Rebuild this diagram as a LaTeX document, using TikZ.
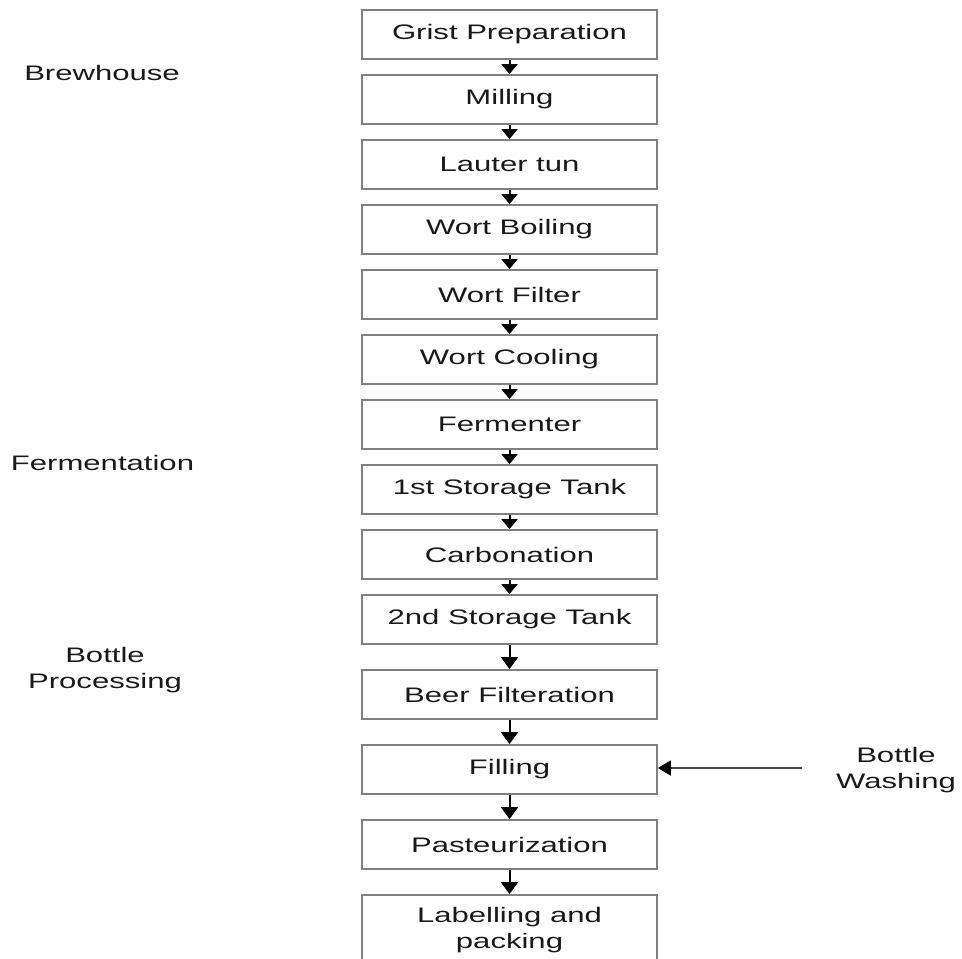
\documentclass[tikz,border=0pt]{standalone}
\usepackage{fontspec}
\setmainfont{Liberation Sans}[FakeStretch=1.48]
\usetikzlibrary{arrows.meta}
\begin{document}
\begin{tikzpicture}[x=1pt,y=-1pt,
  every node/.style={font=\fontsize{21}{25.5}\selectfont, text=black!90, align=center},
  box/.style={draw=black!50, line width=1.8pt, minimum width=295pt, minimum height=49pt, inner sep=0pt},
  flow/.style={draw=black, line width=2pt, -{Triangle[width=16pt,length=10pt]}},
  flowlong/.style={draw=black, line width=2pt, -{Triangle[width=17pt,length=12pt]}},
  lab/.style={inner sep=0pt}
]
\useasboundingbox (0,0) rectangle (962,959);
\node[box] (b1) at (509.5,34.5) {Grist Preparation};
\node[box] (b2) at (509.5,99.5) {Milling};
\node[box] (b3) at (509.5,164.5) {Lauter tun};
\node[box] (b4) at (509.5,229.5) {Wort Boiling};
\node[box] (b5) at (509.5,294.5) {Wort Filter};
\node[box] (b6) at (509.5,359.5) {Wort Cooling};
\node[box] (b7) at (509.5,424.5) {Fermenter};
\node[box] (b8) at (509.5,489.5) {1st Storage Tank};
\node[box] (b9) at (509.5,554.5) {Carbonation};
\node[box] (b10) at (509.5,619.5) {2nd Storage Tank};
\node[box] (b11) at (509.5,694.5) {Beer Filteration};
\node[box] (b12) at (509.5,769.5) {Filling};
\node[box] (b13) at (509.5,844.5) {Pasteurization};
\node[box, minimum height=70pt] (b14) at (509.5,930) {Labelling and\\packing};
\foreach \a/\b in {b1/b2,b2/b3,b3/b4,b4/b5,b5/b6,b6/b7,b7/b8,b8/b9,b9/b10}
  \draw[flow] (\a) -- (\b);
\foreach \a/\b in {b10/b11,b11/b12,b12/b13,b13/b14}
  \draw[flowlong] (\a) -- (\b);
\node[lab] (brew) at (102,73) {Brewhouse};
\node[lab] (ferm) at (102.5,463) {Fermentation};
\node[lab] (bproc) at (105,670) {Bottle\\Processing};
\node[lab] (bwash) at (896,770) {Bottle\\Washing};
\coordinate (wstart) at (802,768);
\draw[draw=black!70, line width=1.8pt, -{Triangle[width=15pt,length=13pt,color=black,fill=black]}] (wstart) -- (b12.east |- wstart);
\end{tikzpicture}
\end{document}
